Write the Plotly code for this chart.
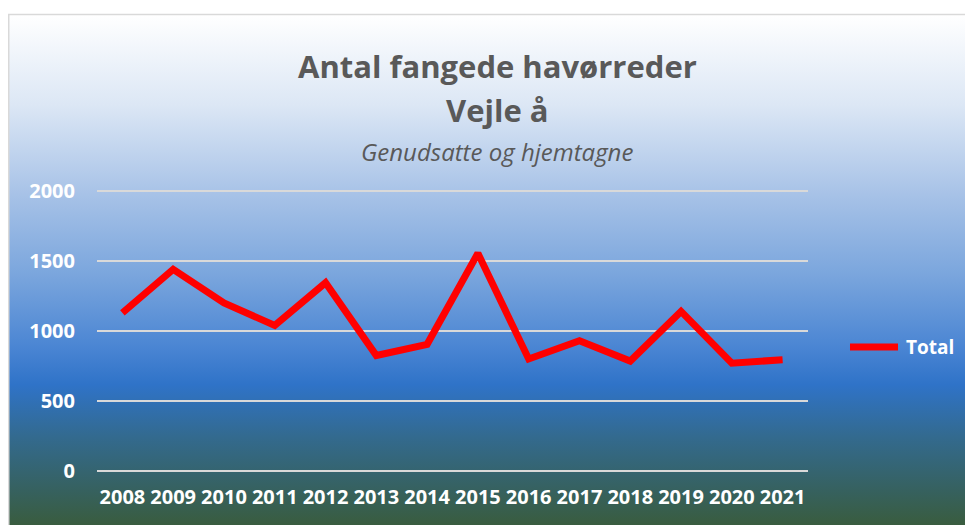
import base64
import plotly.graph_objects as go

years = ["2008", "2009", "2010", "2011", "2012", "2013", "2014",
         "2015", "2016", "2017", "2018", "2019", "2020", "2021"]
total = [1130, 1440, 1200, 1040, 1345, 825, 905,
         1555, 800, 930, 785, 1140, 770, 795]
y_ticks = [0, 500, 1000, 1500, 2000]

title_line1 = "Antal fangede havørreder"
title_line2 = "Vejle å"
subtitle = "Genudsatte og hjemtagne"
series_name = "Total"

W, H = 973, 525
# plot area in figure px (page has an 8px body margin)
Y_MAX = 2050
L, R, B = 89, 800, 463
T = B - Y_MAX * 0.14
pw, ph = R - L, B - T

def px_x(px):
    return (px - L) / pw

def px_y(py):
    return (B - py) / ph

svg = """<svg xmlns='http://www.w3.org/2000/svg' width='100' height='100' preserveAspectRatio='none'>
<defs><linearGradient id='g' x1='0' y1='0' x2='0' y2='1'>
<stop offset='0' stop-color='#ffffff'/>
<stop offset='0.17' stop-color='#dce7f5'/>
<stop offset='0.34' stop-color='#a7c2e7'/>
<stop offset='0.49' stop-color='#7ba6dd'/>
<stop offset='0.63' stop-color='#4a85d3'/>
<stop offset='0.70' stop-color='#2f73c8'/>
<stop offset='0.80' stop-color='#336a8e'/>
<stop offset='0.90' stop-color='#36615f'/>
<stop offset='1' stop-color='#3b5a2e'/>
</linearGradient></defs>
<rect x='0' y='0' width='100' height='100' fill='url(#g)'/>
</svg>"""
src = "data:image/svg+xml;base64," + base64.b64encode(svg.encode()).decode()

fig = go.Figure()
fig.add_trace(go.Scatter(
    x=years, y=total, mode="lines", name=series_name, showlegend=False,
    line=dict(color="#ff0000", width=7),
))

fig.add_layout_image(dict(
    source=src, xref="paper", yref="paper",
    x=px_x(0), y=px_y(7), sizex=(W + 10) / pw, sizey=(H + 10 - 7) / ph,
    xanchor="left", yanchor="top", sizing="stretch", layer="below",
))

fig.add_shape(type="rect", xref="paper", yref="paper",
              x0=px_x(0.75), x1=px_x(W + 20), y0=px_y(H + 20), y1=px_y(6.5),
              line=dict(color="#d9d9d9", width=1.5), fillcolor="rgba(0,0,0,0)",
              layer="above")

# legend (series key)
fig.add_shape(type="line", xref="paper", yref="paper",
              x0=px_x(842), x1=px_x(890), y0=px_y(339), y1=px_y(339),
              line=dict(color="#ff0000", width=7))
fig.add_annotation(text=series_name, xref="paper", yref="paper",
                   x=px_x(896), y=px_y(339), showarrow=False,
                   xanchor="left", yanchor="middle",
                   font=dict(family="Open Sans", size=19, color="#ffffff", weight="bold"))

title_font = dict(family="Open Sans", size=31, color="#595959", weight="bold")
fig.add_annotation(text=title_line1, xref="paper", yref="paper",
                   x=px_x(489), y=px_y(58), showarrow=False,
                   xanchor="center", yanchor="middle", font=title_font)
fig.add_annotation(text=title_line2, xref="paper", yref="paper",
                   x=px_x(489), y=px_y(102), showarrow=False,
                   xanchor="center", yanchor="middle", font=title_font)
fig.add_annotation(text=subtitle, xref="paper", yref="paper",
                   x=px_x(489), y=px_y(143), showarrow=False,
                   xanchor="center", yanchor="middle",
                   font=dict(family="Open Sans", size=24, color="#595959", style="italic"))

tick_font = dict(family="Open Sans", size=20, color="#ffffff", weight="bold")
fig.update_layout(
    width=W, height=H,
    margin=dict(l=L, r=W - R, t=T, b=H - B),
    paper_bgcolor="#ffffff",
    plot_bgcolor="rgba(0,0,0,0)",
    showlegend=False,
    xaxis=dict(type="category", range=[-0.5, len(years) - 0.5],
               showgrid=False, zeroline=False, showline=False,
               ticks="", ticklabelstandoff=12, tickfont=tick_font),
    yaxis=dict(range=[0, Y_MAX], tickvals=y_ticks, showgrid=True,
               gridcolor="#d9d9d9", gridwidth=2, zeroline=True,
               zerolinecolor="#d9d9d9", zerolinewidth=2, showline=False,
               ticks="", ticklabelstandoff=21, tickfont=tick_font),
)

fig.write_html("out.html")
